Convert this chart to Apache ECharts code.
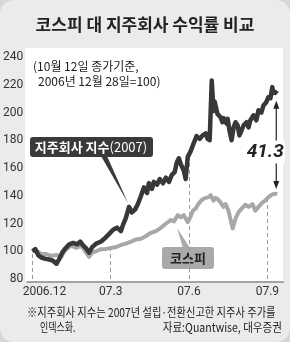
<!DOCTYPE html>
<html><head><meta charset="utf-8">
<script src="https://cdn.jsdelivr.net/npm/echarts@6/dist/echarts.min.js"></script>
<style>html,body{margin:0;padding:0;background:#d6d6d6}#c{width:290px;height:342px}</style>
</head><body><div id="c"></div>
<script>
// ---- data (months since 2006-12-28, index 2006-12-28 = 100) ----
const holdingMonths = [0,0.11,0.23,0.34,0.50,0.65,0.80,0.92,1.03,1.14,1.26,1.41,1.56,1.72,1.83,1.95,2.06,2.17,2.29,2.44,2.63,2.78,2.94,3.09,3.24,3.39,3.47,3.58,3.70,3.81,3.93,4.04,4.16,4.27,4.39,4.46,4.58,4.65,4.77,4.88,5.00,5.11,5.23,5.34,5.45,5.53,5.61,5.68,5.80,5.87,5.95,6.06,6.18,6.29,6.41,6.52,6.64,6.71,6.79,6.87,6.94,6.98,7.09,7.21,7.28,7.32,7.44,7.48,7.55,7.63,7.71,7.78,7.86,7.93,8.01,8.09,8.20,8.28,8.35,8.47,8.58,8.66,8.77,8.85,8.96,9.04,9.12,9.19,9.23,9.31,9.38];
const holdingValues = [100,101.5,97,95.5,94.5,94,93,91,94.5,99,102,105,106,105,107,104,102,99,103,105.5,107,109.5,112.5,115.5,117,114.5,119,124,132,128,130,134,140,146,142,149,145,150,148,152,149,153,150,155,157,164,167,163,158,152,168,172,178,183,181,183.5,185,181,180,223,201,208,199,196.5,193,196,192,195.5,187,180,189.5,193,190.8,183.5,187,190.8,193,189.3,194.4,198,194.4,201.6,200,205,207.4,211,210.3,218.3,214,214.7,213.5];
const kospiMonths = [0,0.15,0.34,0.53,0.72,0.92,1.11,1.22,1.34,1.49,1.68,1.87,2.02,2.17,2.29,2.44,2.63,2.82,3.01,3.20,3.39,3.58,3.78,3.97,4.16,4.35,4.54,4.73,4.92,5.11,5.30,5.42,5.57,5.68,5.80,5.95,6.06,6.14,6.26,6.37,6.52,6.64,6.75,6.83,6.94,7.02,7.13,7.25,7.32,7.40,7.51,7.67,7.78,7.89,8.05,8.16,8.28,8.43,8.54,8.66,8.81,8.92,9.04,9.19,9.31,9.38];
const kospiValues = [100,100.5,98,98,96.6,97.4,96,100,102,104,102.5,104,100,96,99,100,101.5,101.7,102.4,103,104.5,105.5,107,108.5,109,111,113.3,114.5,116.9,119.8,122.5,121.5,126,124.5,126,121,125,129,131,134.5,137.5,138.5,139,140.5,136.5,138.5,137,134,132,134,129.3,116.5,123.4,128,131.4,133.5,132,134,129.3,132,135,136.5,139,141,141.5,141.2];
const tickMonths = [0,3,6,9];
const tickLabels = ['2006.12','07.3','07.6','07.9'];
const guideSeries = ['kospi','kospi','holding','kospi'];
const yTicks = [80,100,120,140,160,180,200,220,240];
const holdingName = '지주회사 지수';
const holdingYear = '(2007)';
const kospiName = '코스피';
const gapLabel = '41.3';
const titleText = '코스피 대 지주회사 수익률 비교';
const noteLines = ['(10월 12일 종가기준,','2006년 12월 28일=100)'];
const footLines = ['※지주회사 지수는 2007년 설립·전환신고한 지주사 주가를','인덱스화.'];
const sourceText = '자료:Quantwise, 대우증권';

function valueAt(months, values, m){
  let best=0, d=1e9;
  months.forEach((x,i)=>{ if(Math.abs(x-m)<d){d=Math.abs(x-m);best=i;} });
  return values[best];
}
const holdingData = holdingMonths.map((m,i)=>[m,holdingValues[i]]);
const kospiData = kospiMonths.map((m,i)=>[m,kospiValues[i]]);
const guideLines = tickMonths.map((m,i)=>{
  const v = guideSeries[i]==='kospi' ? valueAt(kospiMonths,kospiValues,m) : valueAt(holdingMonths,holdingValues,m);
  return [{coord:[m,yTicks[0]]},{coord:[m,v]}];
});

const KR = "'Noto Sans CJK KR', sans-serif";
const NUM = "'Liberation Sans Narrow', 'Roboto', sans-serif";
const chart = echarts.init(document.getElementById('c'), null, {renderer:'canvas'});
const option = {
  animation:false,
  backgroundColor:'transparent',
  grid:{left:26,right:7,top:57,bottom:63},
  xAxis:{type:'value',min:-0.2,max:9.6,offset:3,
    axisLine:{show:true,onZero:false,lineStyle:{color:'#a3a3a3',width:2}},
    axisTick:{show:false},splitLine:{show:false},
    axisLabel:{customValues:tickMonths,margin:4,color:'#333',fontSize:12,fontFamily:NUM,
      formatter:(v)=>{const i=tickMonths.indexOf(v); if(i<0) return ''; return i===0?'{f|'+tickLabels[i]+'}':tickLabels[i];},
      rich:{f:{padding:[0,0,0,24],color:'#333',fontSize:12,fontFamily:NUM}}}},
  yAxis:{type:'value',min:yTicks[0],max:yTicks[yTicks.length-1],interval:20,
    axisLine:{show:false},axisTick:{show:false},splitLine:{show:false},
    axisLabel:{margin:4,color:'#333',fontSize:12,fontFamily:NUM}},
  series:[
    {type:'line',name:kospiName,data:kospiData,symbol:'none',z:2,
      lineStyle:{color:'#a8a8a8',width:4,join:'round'},
      markLine:{silent:true,symbol:'none',label:{show:false},z:1,
        lineStyle:{color:'#9a9a9a',width:1,type:[4,3]},data:guideLines}},
    {type:'line',name:holdingName,data:holdingData,symbol:'none',z:3,
      lineStyle:{color:'#383838',width:4.5,join:'round'}}
  ],
  graphic:[
    {type:'rect',z:-20,shape:{x:0,y:0,width:290,height:342,r:14},style:{fill:'#ebebeb'}},
    {type:'rect',z:-10,shape:{x:25,y:48,width:258,height:234},style:{fill:'#ffffff'}},
    {type:'text',x:145,y:25,style:{text:titleText,font:"bold 17px "+KR,fill:'#222',textAlign:'center',textVerticalAlign:'middle'}},
    {type:'text',x:33,y:66,style:{text:noteLines[0],font:"12px "+KR,fill:'#222',textAlign:'left',textVerticalAlign:'middle'}},
    {type:'text',x:38,y:81,style:{text:noteLines[1],font:"12px "+KR,fill:'#222',textAlign:'left',textVerticalAlign:'middle'}},
    {type:'polygon',shape:{points:[[101,156],[107,156],[128,203]]},style:{fill:'#3a3a3a'}},
    {type:'rect',shape:{x:30,y:137,width:123,height:20,r:3},style:{fill:'#3a3a3a'}},
    {type:'text',x:91,y:147,style:{text:'{b|'+holdingName+'}{n|'+holdingYear+'}',textAlign:'center',textVerticalAlign:'middle',
      rich:{b:{font:"bold 13px "+KR,fill:'#fff'},n:{font:"13px "+KR,fill:'#fff'}}}},
    {type:'polygon',shape:{points:[[183,248],[190,248],[177,228]]},style:{fill:'#a9a9a9'}},
    {type:'rect',shape:{x:162,y:247,width:52,height:22,r:3},style:{fill:'#a9a9a9'}},
    {type:'text',x:188,y:258,style:{text:kospiName,font:"bold 13px "+KR,fill:'#222',textAlign:'center',textVerticalAlign:'middle'}},
    {type:'text',x:27,y:312,scaleX:0.855,style:{text:footLines[0],font:"12px "+KR,fill:'#222',textAlign:'left',textVerticalAlign:'middle'}},
    {type:'text',x:40,y:327,scaleX:0.75,style:{text:footLines[1],font:"12px "+KR,fill:'#222',textAlign:'left',textVerticalAlign:'middle'}},
    {type:'text',x:282,y:327,scaleX:0.88,style:{text:sourceText,font:"12px "+KR,fill:'#222',textAlign:'right',textVerticalAlign:'middle'}}
  ]
};
chart.setOption(option);

// gap arrow derived from the last values of each series
const lastH = holdingData[holdingData.length-1];
const lastK = kospiData[kospiData.length-1];
const ax = chart.convertToPixel({xAxisIndex:0}, lastH[0]) - 1;
const yT = chart.convertToPixel({yAxisIndex:0}, lastH[1]) + 7;
const yB = chart.convertToPixel({yAxisIndex:0}, lastK[1]) - 5;
const mid = (yT+yB)/2 + 7;
const g = option.graphic.slice();
g.push({type:'line',shape:{x1:ax,y1:yT+6,x2:ax,y2:yB-6},style:{stroke:'#222',lineWidth:1.2}});
g.push({type:'polygon',shape:{points:[[ax,yT],[ax-3,yT+8],[ax+3,yT+8]]},style:{fill:'#222'}});
g.push({type:'polygon',shape:{points:[[ax,yB],[ax-3,yB-8],[ax+3,yB-8]]},style:{fill:'#222'}});
g.push({type:'text',x:ax-11,y:mid,style:{text:gapLabel,font:"italic bold 19px "+NUM,fill:'#222',textAlign:'center',textVerticalAlign:'middle',
  backgroundColor:'#fff',padding:[2,1]}});
chart.setOption({graphic:g}, {replaceMerge:['graphic']});
</script></body></html>
